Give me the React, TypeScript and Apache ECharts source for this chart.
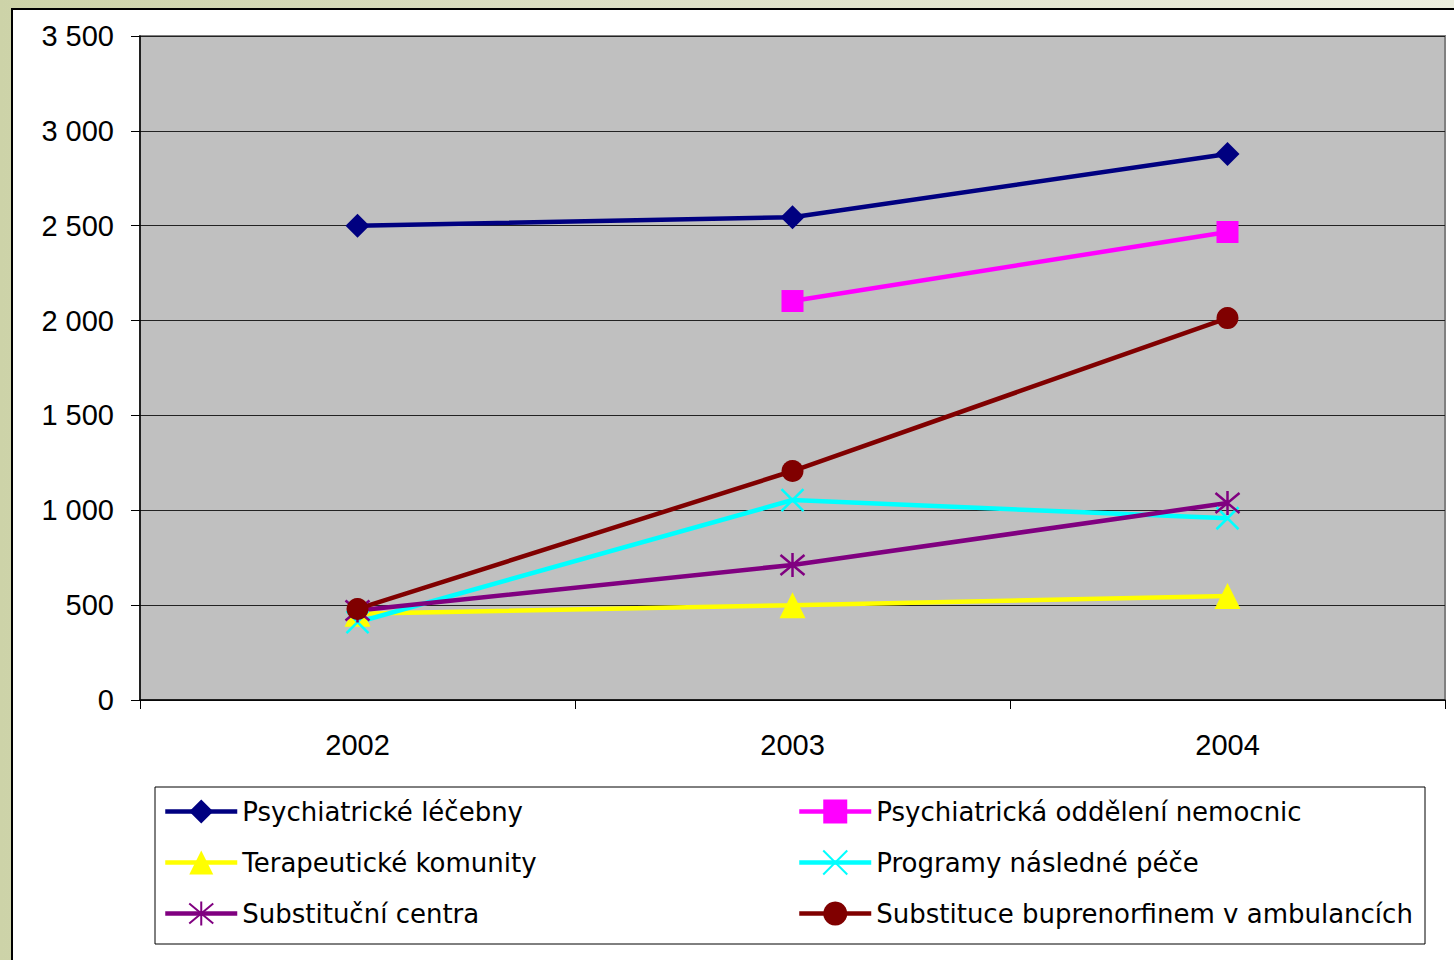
import React, { useEffect, useRef } from "react";
import * as echarts from "echarts";

const years = ["2002", "2003", "2004"];
const yTicks = [0, 500, 1000, 1500, 2000, 2500, 3000, 3500];

const psychLecebny = [2500, 2545, 2878];
const psychOddeleni: (number | null)[] = [null, 2103, 2467];
const terapeuticke = [455, 500, 548];
const programy = [410, 1054, 958];
const substitucni = [472, 712, 1038];
const buprenorfin = [480, 1207, 2013];

const names = [
  "Psychiatrické léčebny",
  "Psychiatrická oddělení nemocnic",
  "Terapeutické komunity",
  "Programy následné péče",
  "Substituční centra",
  "Substituce buprenorfinem v ambulancích",
];

const X_PATH = "path://M0,0L10,10M10,0L0,10";
const STAR_PATH = "path://M0,0L10,10M10,0L0,10M5,-1L5,11";

export default function App() {
  const ref = useRef<HTMLDivElement>(null);
  useEffect(() => {
    document.body.style.margin = "0";
    const chart = echarts.init(ref.current!, undefined, { renderer: "svg" });
    const font = "'Liberation Sans', Arial, sans-serif";
    const legendFont = "'DejaVu Sans', sans-serif";
    const mk = (
      name: string,
      data: (number | null)[],
      color: string,
      symbol: string,
      size: number,
      stroke = false
    ) => ({
      type: "line",
      name,
      data,
      symbol,
      symbolSize: size,
      showAllSymbol: true,
      connectNulls: false,
      lineStyle: { color, width: 4.5 },
      itemStyle: stroke
        ? { color, borderColor: color, borderWidth: 2.5 }
        : { color, borderWidth: 0 },
      emphasis: { disabled: true },
    });
    const legendBase = {
      orient: "vertical",
      top: 798,
      padding: 0,
      itemWidth: 72,
      itemHeight: 30,
      itemGap: 24,
      selectedMode: false,
      lineStyle: { width: 4.5 },
      textStyle: { fontSize: 26, color: "#000", fontFamily: legendFont, lineHeight: 27 },
    };
    chart.setOption({
      animation: false,
      textStyle: { fontFamily: font },
      grid: {
        left: 140,
        right: 9,
        top: 36,
        bottom: 260,
        show: true,
        backgroundColor: "#C0C0C0",
        borderColor: "#808080",
        borderWidth: 2,
      },
      xAxis: {
        type: "category",
        data: years,
        boundaryGap: true,
        axisLine: { lineStyle: { color: "#000", width: 1.5 } },
        axisTick: { show: true, length: 9, lineStyle: { color: "#000" } },
        axisLabel: { color: "#000", fontSize: 29, margin: 30, fontFamily: font },
      },
      yAxis: {
        type: "value",
        min: 0,
        max: 3500,
        interval: 500,
        axisLine: { show: true, lineStyle: { color: "#000", width: 1.5 } },
        axisTick: { show: true, length: 9, lineStyle: { color: "#000" } },
        axisLabel: {
          color: "#000",
          fontSize: 29,
          margin: 26,
          fontFamily: font,
          formatter: (v: number) => {
            const i = yTicks.indexOf(v);
            const val = i >= 0 ? yTicks[i] : v;
            return String(val).replace(/\B(?=(\d{3})+(?!\d))/g, " ");
          },
        },
        splitLine: { show: true, lineStyle: { color: "#222", width: 1 } },
      },
      legend: [
        { ...legendBase, left: 163, data: [names[0], names[2], names[4]] },
        { ...legendBase, left: 797, data: [names[1], names[3], names[5]] },
      ],
      graphic: [
        {
          type: "rect",
          shape: { x: 155, y: 787, width: 1270, height: 157 },
          style: { fill: "#fff", stroke: "#000", lineWidth: 1 },
          z: -1,
        },
      ],
      series: [
        mk(names[0], psychLecebny, "#000080", "diamond", 24),
        mk(names[1], psychOddeleni, "#FF00FF", "rect", 22),
        mk(names[2], terapeuticke, "#FFFF00", "triangle", 26),
        mk(names[3], programy, "#00FFFF", X_PATH, 22, true),
        mk(names[4], substitucni, "#800080", STAR_PATH, 24, true),
        mk(names[5], buprenorfin, "#800000", "circle", 22),
      ],
    });
    return () => chart.dispose();
  }, []);
  return (
    <div
      style={{
        position: "fixed",
        left: 0,
        top: 0,
        width: 1454,
        height: 960,
        background: "linear-gradient(90deg, #cdd3a8 0%, #dcdfc4 40%, #eceede 100%)",
        overflow: "hidden",
      }}
    >
      <div
        style={{
          position: "absolute",
          left: 11,
          top: 8,
          width: 1460,
          height: 970,
          background: "#fff",
          borderLeft: "2px solid #000",
          borderTop: "2px solid #000",
        }}
      />
      <div ref={ref} style={{ position: "absolute", left: 0, top: 0, width: 1454, height: 960 }} />
    </div>
  );
}
